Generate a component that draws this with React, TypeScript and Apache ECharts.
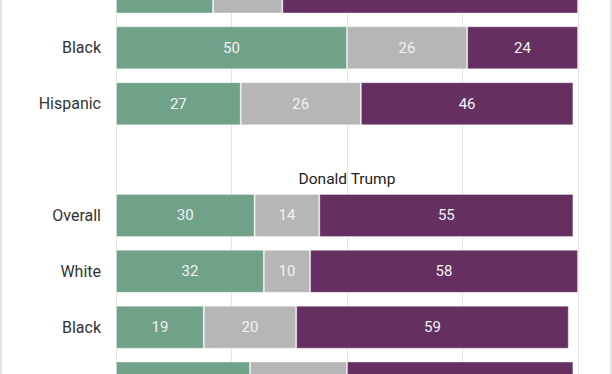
import React, { useEffect, useRef } from "react";
import * as echarts from "echarts";

const categories = ["White", "Black", "Hispanic", "", "Overall", "White", "Black", "Hispanic"];
const favorable = [21, 50, 27, null, 30, 32, 19, 29];
const neutral = [15, 26, 26, null, 14, 10, 20, 21];
const unfavorable = [64, 24, 46, null, 55, 58, 59, 49];
const xTicks = [0, 25, 50, 75, 100];
const sectionTitle = "Donald Trump";
// rows that fall outside the visible crop (their texts are not shown)
const hiddenRows = [0, 7];

const OFFSET = 36;
const CHART_H = 447;

export default function App() {
  const ref = useRef<HTMLDivElement>(null);
  useEffect(() => {
    document.body.style.margin = "0";
    const chart = echarts.init(ref.current!, null, { renderer: "svg" });
    const labelStyle = {
      show: true,
      position: "inside",
      color: "#f2f2f2",
      fontSize: 15,
      fontFamily: "Roboto",
    };
    const mk = (name: string, data: (number | null)[], color: string) => ({
      name,
      type: "bar",
      stack: "total",
      data: data.map((v, i) =>
        hiddenRows.includes(i) ? { value: v, label: { show: false } } : v
      ),
      barWidth: 43,
      itemStyle: { color, borderColor: "rgba(255,255,255,0.35)", borderWidth: 1 },
      label: labelStyle,
    });
    chart.setOption({
      animation: false,
      backgroundColor: "#ffffff",
      graphic: [
        {
          type: "text",
          x: 347,
          y: 179 + OFFSET,
          style: {
            text: sectionTitle,
            textAlign: "center",
            textVerticalAlign: "middle",
            fontSize: 15.5,
            fontFamily: "Roboto",
            fill: "#222",
          },
        },
      ],
      grid: { left: 116, width: 462, top: 0, height: CHART_H },
      xAxis: {
        type: "value",
        min: xTicks[0],
        max: xTicks[xTicks.length - 1],
        interval: 25,
        axisLabel: { show: false },
        axisLine: { show: false },
        axisTick: { show: false },
        splitLine: { show: true, lineStyle: { color: "#e4e4e4", width: 1 } },
      },
      yAxis: {
        type: "category",
        data: categories,
        inverse: true,
        axisLine: { show: false },
        axisTick: { show: false },
        axisLabel: {
          margin: 15,
          color: "#333",
          fontSize: 16,
          fontFamily: "Roboto",
          formatter: (v: string, i: number) => (hiddenRows.includes(i) ? "" : v),
        },
      },
      series: [
        mk("Favorable", favorable, "#70a189"),
        mk("Neutral", neutral, "#b6b6b6"),
        mk("Unfavorable", unfavorable, "#652f62"),
      ],
    });
    return () => chart.dispose();
  }, []);
  return (
    <div style={{ position: "fixed", left: 0, top: 0, width: 612, height: 374, overflow: "hidden", background: "#fff" }}>
      <div ref={ref} style={{ position: "absolute", left: 0, top: -OFFSET, width: 612, height: CHART_H }} />
      <div style={{ position: "absolute", left: 0, top: 0, width: 2, height: 374, background: "#e2e2e2" }} />
      <div style={{ position: "absolute", left: 610, top: 0, width: 2, height: 374, background: "#e2e2e2" }} />
    </div>
  );
}
